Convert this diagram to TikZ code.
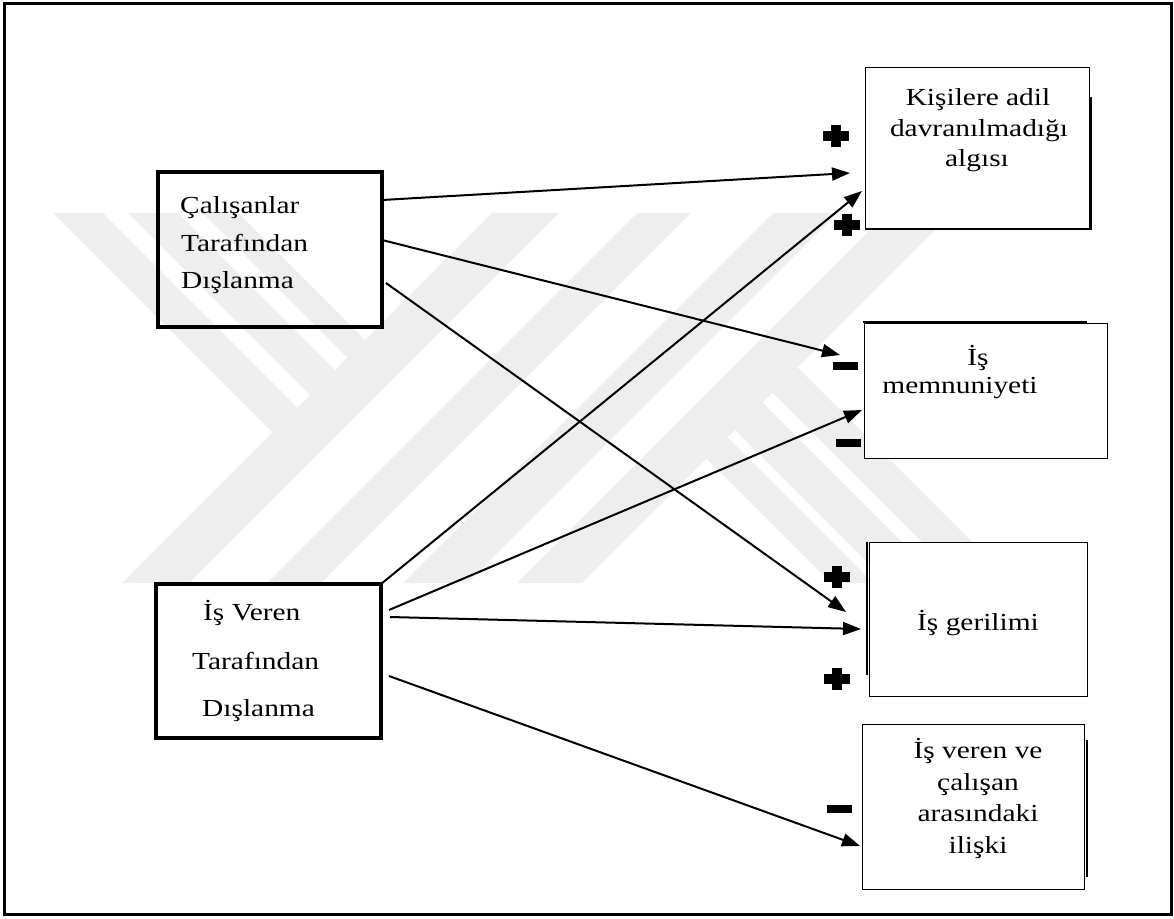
\documentclass[tikz,border=0pt]{standalone}
\usepackage{fontspec}
\setmainfont{Liberation Serif}[FakeStretch=1.2]
\usetikzlibrary{calc,arrows.meta}
\definecolor{wmgray}{RGB}{238,238,238}
\newcommand\diagfs{\fontsize{24.5}{28}\selectfont}
\tikzset{
  thickbox/.style={draw, line width=4.5pt, inner sep=0pt, outer sep=0pt, anchor=north west},
  thinbox/.style={draw, line width=1pt, inner sep=0pt, outer sep=0pt, anchor=north west, fill=white},
  lbl/.style={inner sep=0pt, font=\diagfs, anchor=base},
  lblw/.style={inner sep=0pt, font=\diagfs, anchor=base west},
  arr/.style={line width=2pt, -{Triangle[length=18pt,width=13pt]}},
  shadowline/.style={line width=2.6pt},
  wm/.style={fill=wmgray},
  plussign/.pic={\fill (-13,-4.75) rectangle (13,4.75); \fill (-4.75,-11) rectangle (4.75,11);},
  minussign/.pic={\fill (-12.5,-4) rectangle (12.5,4);}
}
\begin{document}
\begin{tikzpicture}[x=1pt,y=-1pt]
\useasboundingbox (0,0) rectangle (1174,918);
% watermark
\fill[wm] (122,583) -- (189,583) -- (559,213) -- (492,213) -- cycle;
\fill[wm] (267,583) -- (321,583) -- (691,213) -- (637,213) -- cycle;
\fill[wm] (403,583) -- (467,583) -- (837,213) -- (773,213) -- cycle;
\fill[wm] (517,583) -- (582,583) -- (952,213) -- (887,213) -- cycle;
\fill[wm] (53,213) -- (103,213) -- (297.5,407.5) -- (272.5,432.5) -- cycle;
\fill[wm] (128,213) -- (178,213) -- (335,370) -- (310,395) -- cycle;
\fill[wm] (203,213) -- (238,213) -- (365,340) -- (347.5,357.5) -- cycle;
\fill[wm] (772.5,392.5) -- (797.5,367.5) -- (1013,583) -- (963,583) -- cycle;
\fill[wm] (735,430) -- (762.5,402.5) -- (943,583) -- (888,583) -- cycle;
\fill[wm] (706.5,458.5) -- (727.5,437.5) -- (873,583) -- (831,583) -- cycle;
% outer frame
\draw[line width=3pt] (4,3) rectangle (1171,914);
% left boxes
\node[thickbox, minimum width=224pt, minimum height=155pt] (A) at (158,172) {};
\node[thickbox, minimum width=225pt, minimum height=154pt] (B) at (156,584) {};
% right boxes
\node[thinbox, minimum width=224pt, minimum height=161pt] (K) at (865,67) {};
\node[thinbox, minimum width=243pt, minimum height=135pt] (M) at (864,323) {};
\node[thinbox, minimum width=218pt, minimum height=154pt] (G) at (869,542) {};
\node[thinbox, minimum width=222pt, minimum height=165pt] (R) at (862,724) {};
% box shadows
\draw[shadowline] ($(K.north east)+(2,30)$) |- ($(K.south west)+(0,1)$);
\draw[shadowline] ($(M.north west)+(-1,-1)$) -- ($(M.north west)+(223,-1)$);
\draw[shadowline] ($(G.north west)+(-2,0)$) -- ($(G.north west)+(-2,133)$);
\draw[shadowline] ($(R.north east)+(3,16)$) -- ($(R.north east)+(3,153)$);
% texts
\node[lblw] (a1) at (180,213) {Çalışanlar};
\node[lblw] (a2) at (181,251) {Tarafından};
\node[lblw] (a3) at (181,288) {Dışlanma};
\node[lblw] (b1) at (203,620) {İş Veren};
\node[lblw] (b2) at (192,669) {Tarafından};
\node[lblw] (b3) at (202,716) {Dışlanma};
\node[lbl] (k1) at (978,105) {Kişilere adil};
\node[lbl] (k2) at (979,136) {davranılmadığı};
\node[lbl] (k3) at (977,166) {algısı};
\node[lbl] (m1) at (978,365) {İş};
\node[lbl] (m2) at (960,393) {memnuniyeti};
\node[lbl] (g1) at (978,630) {İş gerilimi};
\node[lbl] (r1) at (978,758) {İş veren ve};
\node[lbl] (r2) at (978,790) {çalışan};
\node[lbl] (r3) at (978,821) {arasındaki};
\node[lbl] (r4) at (978,853) {ilişki};
% connectors
\draw[arr] ($(A.north east)+(0,28)$) -- ($(K.north west)+(-15,106)$);
\draw[arr] ($(A.north east)+(0,68)$) -- ($(M.north west)+(-24,32)$);
\draw[arr] ($(A.north east)+(4,111)$) -- ($(G.north west)+(-23,70)$);
\draw[arr] (B.north east) -- ($(K.north west)+(-3,124)$);
\draw[arr] ($(B.north east)+(8,26)$) -- ($(M.north west)+(-2,87)$);
\draw[arr] ($(B.north east)+(9,33)$) -- ($(G.north west)+(-8,87)$);
\draw[arr] ($(B.north east)+(8,92)$) -- ($(R.north west)+(-2,122)$);
% signs
\pic (p1) at (836,136) {plussign};
\pic (p2) at (847,225) {plussign};
\pic (n1) at (845,366) {minussign};
\pic (n2) at (848,443) {minussign};
\pic (p3) at (837,577) {plussign};
\pic (p4) at (837,679) {plussign};
\pic (n3) at (839,809) {minussign};
\end{tikzpicture}
\end{document}
